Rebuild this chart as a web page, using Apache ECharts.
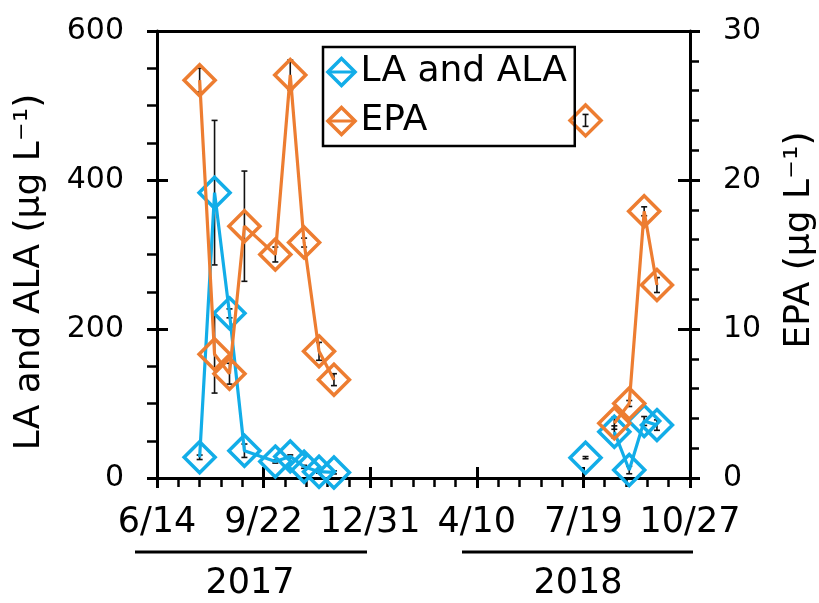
<!DOCTYPE html>
<html>
<head>
<meta charset="utf-8">
<script src="https://cdn.jsdelivr.net/npm/echarts@6/dist/echarts.min.js"></script>
<style>
  html, body { margin: 0; padding: 0; background: #fff; }
  #chart { width: 819px; height: 603px; }
</style>
</head>
<body>
<div id="chart"></div>
<script>
// Sampling dates and measured concentrations (mean and error) per campaign
const sampleDates2017 = ['2017-07-24', '2017-08-07', '2017-08-21', '2017-09-04', '2017-10-03',
                         '2017-10-17', '2017-10-30', '2017-11-13', '2017-11-27'];
const laAla2017    = [27.8, 383, 221, 36.6, 22, 29, 15, 8.5, 7.5];
const laAlaErr2017 = [3, 97, 6, 9, 2, 2, 2, 2, 2];
const epa2017      = [26.7, 8.3, 7.0, 16.9, 15.0, 27.05, 15.8, 8.5, 6.6];
const epaErr2017   = [0.8, 2.6, 0.7, 3.7, 0.5, 1.0, 0.3, 0.6, 0.4];

const sampleDates2018 = ['2018-07-21', '2018-08-17', '2018-08-31', '2018-09-14', '2018-09-26'];
const laAla2018    = [27.3, 62, 10.7, 76.5, 71];
const laAlaErr2018 = [1.5, 8, 5, 6, 7];
const epa2018      = [24.0, 3.67, 5.0, 17.9, 12.95];
const epaErr2018   = [0.4, 0.4, 0.2, 0.3, 0.5];

// The line is interrupted before these dates
const lineBreaksBefore = ['2018-07-21', '2018-08-17'];

// Axis ranges: x in days since the start date, ticks every 100 days
const xStartDate = '2017-06-14';
const xRangeDays = [0, 500, 100];
const laAlaRange = [0, 600, 200];
const epaRange   = [0, 30, 10];
const yearLabels = ['2017', '2018'];

const BLUE = '#12ADE8';
const ORANGE = '#ED7D31';
const FONT = 'DejaVu Sans';
const DAY = 86400000;
const t0 = Date.parse(xStartDate + 'T00:00:00Z');
const toDay = d => Math.round((Date.parse(d + 'T00:00:00Z') - t0) / DAY);
const dayLabel = v => {
  const d = new Date(t0 + v * DAY);
  return (d.getUTCMonth() + 1) + '/' + d.getUTCDate();
};

const dates = sampleDates2017.concat(sampleDates2018);
const laAla = laAla2017.concat(laAla2018);
const laAlaErr = laAlaErr2017.concat(laAlaErr2018);
const epa = epa2017.concat(epa2018);
const epaErr = epaErr2017.concat(epaErr2018);

function lineData(values) {
  const out = [];
  dates.forEach((d, i) => {
    if (lineBreaksBefore.includes(d)) out.push([toDay(d) - 1, '-']);
    out.push([toDay(d), values[i]]);
  });
  return out;
}
function errData(values, errs) {
  return dates.map((d, i) => [toDay(d), values[i] - errs[i], values[i] + errs[i]]);
}

function renderErr(params, api) {
  const x = api.value(0);
  const top = api.coord([x, api.value(2)]);
  const bot = api.coord([x, api.value(1)]);
  const cap = 3;
  const st = { stroke: '#111', lineWidth: 1.6 };
  return {
    type: 'group',
    children: [
      { type: 'line', shape: { x1: top[0], y1: top[1], x2: bot[0], y2: bot[1] }, style: st },
      { type: 'line', shape: { x1: top[0] - cap, y1: top[1], x2: top[0] + cap, y2: top[1] }, style: st },
      { type: 'line', shape: { x1: bot[0] - cap, y1: bot[1], x2: bot[0] + cap, y2: bot[1] }, style: st }
    ]
  };
}

const axisLineStyle = { color: '#000', width: 3 };
const noSplit = { show: false };

const chart = echarts.init(document.getElementById('chart'), null, { renderer: 'canvas' });

chart.setOption({
  animation: false,
  backgroundColor: '#fff',
  grid: { left: 157, right: 129, top: 31, bottom: 125, containLabel: false },
  legend: {
    orient: 'vertical',
    left: 323,
    top: 47,
    padding: [5, 8, 5, 3],
    itemGap: 9,
    itemWidth: 28,
    itemHeight: 34,
    itemStyle: { borderWidth: 3.5 },
    lineStyle: { width: 3 },
    borderColor: '#000',
    borderWidth: 2.5,
    textStyle: { fontFamily: FONT, fontSize: 36, color: '#000', lineHeight: 40 },
    data: ['LA and ALA', 'EPA']
  },
  xAxis: [
    {
      type: 'value', position: 'bottom',
      min: xRangeDays[0], max: xRangeDays[1], interval: xRangeDays[2],
      axisLine: { show: true, onZero: false, lineStyle: axisLineStyle },
      axisTick: { show: true, inside: false, length: 10, lineStyle: { color: '#000', width: 3 } },
      minorTick: { show: true, splitNumber: 5, length: 9, lineStyle: { color: '#000', width: 2.5 } },
      axisLabel: { margin: 27, fontFamily: FONT, fontSize: 35, color: '#000', formatter: dayLabel },
      splitLine: noSplit, minorSplitLine: noSplit
    },
    {
      type: 'value', position: 'bottom',
      min: xRangeDays[0], max: xRangeDays[1], interval: xRangeDays[2],
      axisLine: { show: false, onZero: false },
      axisTick: { show: true, inside: true, length: 11, lineStyle: { color: '#000', width: 3 } },
      axisLabel: { show: false }, splitLine: noSplit
    },
    {
      type: 'value', position: 'top',
      min: xRangeDays[0], max: xRangeDays[1],
      axisLine: { show: true, onZero: false, lineStyle: axisLineStyle },
      axisTick: { show: false }, axisLabel: { show: false }, splitLine: noSplit
    }
  ],
  yAxis: [
    {
      type: 'value', position: 'left',
      min: laAlaRange[0], max: laAlaRange[1], interval: laAlaRange[2],
      axisLine: { show: true, onZero: false, lineStyle: axisLineStyle },
      axisTick: { show: true, inside: false, length: 10, lineStyle: { color: '#000', width: 3 } },
      minorTick: { show: true, splitNumber: 4, length: 10, lineStyle: { color: '#000', width: 2.5 } },
      axisLabel: { margin: 33, fontFamily: FONT, fontSize: 30, color: '#000' },
      splitLine: noSplit, minorSplitLine: noSplit
    },
    {
      type: 'value', position: 'left',
      min: laAlaRange[0], max: laAlaRange[1], interval: laAlaRange[2],
      axisLine: { show: false, onZero: false },
      axisTick: { show: true, inside: true, length: 11, lineStyle: { color: '#000', width: 3 } },
      axisLabel: { show: false }, splitLine: noSplit
    },
    {
      type: 'value', position: 'right',
      min: epaRange[0], max: epaRange[1], interval: epaRange[2],
      axisLine: { show: true, onZero: false, lineStyle: axisLineStyle },
      axisTick: { show: true, inside: false, length: 10, lineStyle: { color: '#000', width: 3 } },
      minorTick: { show: true, splitNumber: 5, length: 9, lineStyle: { color: '#000', width: 2.5 } },
      axisLabel: { margin: 33, fontFamily: FONT, fontSize: 30, color: '#000' },
      splitLine: noSplit, minorSplitLine: noSplit
    },
    {
      type: 'value', position: 'right',
      min: epaRange[0], max: epaRange[1], interval: epaRange[2],
      axisLine: { show: false, onZero: false },
      axisTick: { show: true, inside: true, length: 12, lineStyle: { color: '#000', width: 3 } },
      axisLabel: { show: false }, splitLine: noSplit
    }
  ],
  series: [
    {
      type: 'custom', name: 'LA and ALA error', xAxisIndex: 0, yAxisIndex: 0,
      renderItem: renderErr, data: errData(laAla, laAlaErr),
      encode: { x: 0, y: [1, 2] }, z: 1, silent: true
    },
    {
      type: 'custom', name: 'EPA error', xAxisIndex: 0, yAxisIndex: 2,
      renderItem: renderErr, data: errData(epa, epaErr),
      encode: { x: 0, y: [1, 2] }, z: 1, silent: true
    },
    {
      type: 'line', name: 'LA and ALA', xAxisIndex: 0, yAxisIndex: 0,
      data: lineData(laAla),
      symbol: 'diamond', symbolSize: 31, showAllSymbol: true, connectNulls: false,
      lineStyle: { color: BLUE, width: 3.2 },
      itemStyle: { color: 'rgba(255,255,255,0)', borderColor: BLUE, borderWidth: 3.5 },
      z: 2
    },
    {
      type: 'line', name: 'EPA', xAxisIndex: 0, yAxisIndex: 2,
      data: lineData(epa),
      symbol: 'diamond', symbolSize: 31, showAllSymbol: true, connectNulls: false,
      lineStyle: { color: ORANGE, width: 3.2 },
      itemStyle: { color: 'rgba(255,255,255,0)', borderColor: ORANGE, borderWidth: 3.5 },
      z: 3
    }
  ],
  graphic: [
    {
      type: 'text', x: 30, y: 272, rotation: Math.PI / 2,
      style: { text: 'LA and ALA (μg L⁻¹)', font: '36px "DejaVu Sans"', fill: '#000',
               align: 'center', verticalAlign: 'middle' }
    },
    {
      type: 'text', x: 800, y: 240, rotation: Math.PI / 2,
      style: { text: 'EPA (μg L⁻¹)', font: '36px "DejaVu Sans"', fill: '#000',
               align: 'center', verticalAlign: 'middle' }
    },
    { type: 'line', shape: { x1: 135, y1: 552, x2: 367, y2: 552 }, style: { stroke: '#000', lineWidth: 3 } },
    { type: 'line', shape: { x1: 462, y1: 552, x2: 693, y2: 552 }, style: { stroke: '#000', lineWidth: 3 } },
    {
      type: 'text', x: 250, y: 584,
      style: { text: yearLabels[0], font: '35px "DejaVu Sans"', fill: '#000', align: 'center', verticalAlign: 'middle' }
    },
    {
      type: 'text', x: 578, y: 584,
      style: { text: yearLabels[1], font: '35px "DejaVu Sans"', fill: '#000', align: 'center', verticalAlign: 'middle' }
    }
  ]
});
</script>
</body>
</html>
